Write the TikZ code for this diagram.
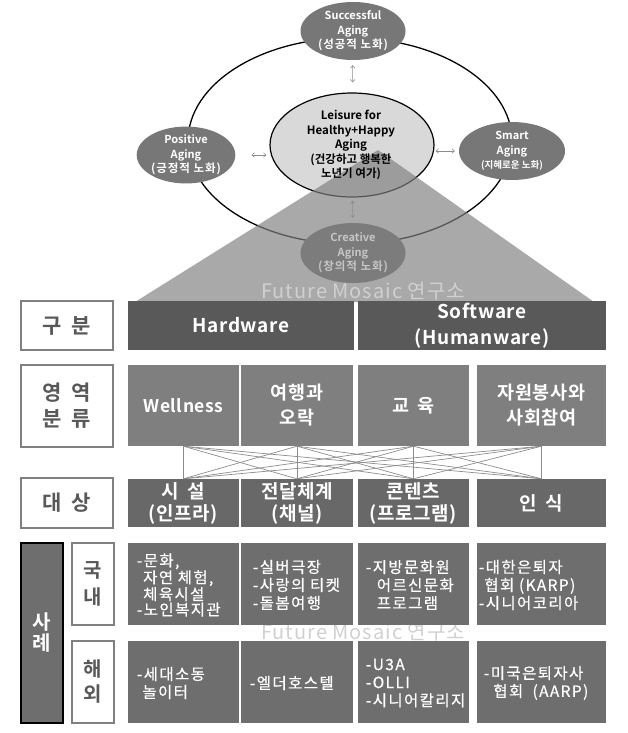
\documentclass[tikz,border=0pt]{standalone}
\usepackage{fontspec}
\setmainfont{Noto Sans CJK KR}[BoldFont={Noto Sans CJK KR Bold}]
\newfontfamily\fa{Noto Sans CJK KR}[BoldFont={Noto Sans CJK KR Bold}, LetterSpace=3]
\newfontfamily\fb{Noto Sans CJK KR}[BoldFont={Noto Sans CJK KR Bold}, LetterSpace=8]
\newfontfamily\fc{Noto Sans CJK KR}[LetterSpace=9, FakeBold=0.5]
\newfontfamily\fd{Noto Sans CJK KR}[LetterSpace=5]
\usetikzlibrary{shapes.geometric,arrows.meta,calc}
\definecolor{cHdr}{HTML}{595959}
\definecolor{cRowB}{HTML}{7F7F7F}
\definecolor{cRowC}{HTML}{686868}
\definecolor{cRowD}{HTML}{6E6E6E}
\definecolor{cLab}{HTML}{595959}
\definecolor{cBord}{HTML}{808080}
\definecolor{cOval}{HTML}{777777}
\definecolor{cCre}{HTML}{7C7C7C}
\definecolor{cCreTxt}{HTML}{C6C6C6}
\definecolor{cCtr}{HTML}{D9D9D9}
\definecolor{cTri}{HTML}{808080}
\definecolor{cMark}{HTML}{D0D0D0}
\definecolor{cLink}{HTML}{8C8C8C}
\definecolor{cArr}{HTML}{8C8C8C}
\newcommand\fsz[2]{\fontsize{#1}{#2}\selectfont}
\newcommand\wideSp{\spaceskip=.45em\relax}
\newcommand\midSp{\spaceskip=.3em\relax}
\newcommand\kpar[1]{{\fb\fsz{11.5}{14.5}\bfseries #1}}
\begin{document}
\begin{tikzpicture}[x=1pt,y=-1pt,
  oval/.style={ellipse, fill=cOval, text=white, inner sep=0, align=center, font=\fsz{11}{14.5}\bfseries},
  lab/.style={rectangle, draw=cBord, line width=1.8pt, fill=white, text=cLab, inner sep=0, align=center, font=\fa\fsz{21}{26}\bfseries\wideSp},
  hdr/.style={rectangle, fill=cHdr, text=white, inner sep=0, align=center, font=\fa\fsz{19}{26}\bfseries},
  rowb/.style={rectangle, fill=cRowB, text=white, inner sep=0, align=center, font=\fa\fsz{18.5}{25}\bfseries\wideSp},
  rowc/.style={rectangle, fill=cRowC, text=white, inner sep=0, align=center, font=\fa\fsz{19}{22}\bfseries\wideSp},
  rowd/.style={rectangle, fill=cRowD, inner sep=0},
  rtxt/.style={text=white, inner sep=0, align=left, anchor=west, font=\fc\fsz{15.5}{18}\midSp},
  link/.style={draw=cLink, line width=0.7pt},
  dbl/.style={draw=cArr, line width=0.6pt, {Straight Barb[length=2.5pt,width=4.5pt]}-{Straight Barb[length=2.5pt,width=4.5pt]}},
  wmark/.style={text=cMark, inner sep=0, font=\fd\fsz{20}{22}}
]
\useasboundingbox (0,0) rectangle (627,733);

% ---------- top diagram ----------
\node[ellipse, draw=black, line width=1.3pt, minimum width=324, minimum height=206, inner sep=0] (ring) at (350,141) {};
\node[ellipse, fill=cCtr, draw=black, line width=1.2pt, minimum width=164, minimum height=104, inner sep=0] (ctr) at (352,145) {};
\fill[cTri, opacity=0.68] (378,150) -- (594,302) -- (135,302) -- cycle;
\node[align=center, inner sep=0, font=\fsz{11.5}{14.5}\bfseries] (ctrtxt) at (351,145)
  {Leisure for\\Healthy+Happy\\Aging\\(건강하고 행복한\\노년기 여가)};

\node[oval, minimum width=105, minimum height=58] (succ) at (353,31) {Successful\\Aging\\\kpar{(성공적 노화)}};
\node[oval, minimum width=92, minimum height=54] (pos) at (186,155) {Positive\\Aging\\\kpar{(긍정적 노화)}};
\node[oval, minimum width=106, minimum height=58] (smart) at (512,151) {Smart\\Aging\\{\fsz{9.5}{14}(지혜로운 노화)}};
\node[oval, fill=cCre, text=cCreTxt, minimum width=105, minimum height=60] (cre) at (353,253) {Creative\\Aging\\\kpar{(창의적 노화)}};

\draw[dbl, shorten <=5pt, shorten >=10pt] (succ) -- (ctr);
\draw[dbl, shorten <=16pt, shorten >=3pt] (pos.east) -- (pos.east -| ctr.west);
\draw[dbl, shorten <=4pt, shorten >=1pt] (smart.west) -- (smart.west -| ctr.east);
\draw[dbl, shorten <=3pt, shorten >=5pt] (ctr) -- (cre);

\node[wmark] (wm1) at (363,291) {Future Mosaic 연구소};

% ---------- table ----------
% row 1
\node[lab, minimum width=92, minimum height=49] (l1) at (67,325.5) {구 분};
\node[hdr, minimum width=226, minimum height=49] (hw) at (241,325.5) {Hardware};
\node[hdr, minimum width=248, minimum height=49] (sw) at (482,325.5) {Software\\(Humanware)};

% row 2
\node[lab, minimum width=92, minimum height=82] (l2) at (67,406) {영 역\\분 류};
\node[rowb, minimum width=111, minimum height=81, font=\fa\fsz{17.5}{25}\bfseries] (w1) at (183.5,405.5) {Wellness};
\node[rowb, minimum width=112, minimum height=81] (w2) at (297,405.5) {여행과\\오락};
\node[rowb, minimum width=111, minimum height=81] (w3) at (413.5,405.5) {교 육};
\node[rowb, minimum width=129, minimum height=81] (w4) at (541.5,405.5) {자원봉사와\\사회참여};

% row 3
\node[lab, minimum width=92, minimum height=50] (l3) at (67,503) {대 상};
\node[rowc, minimum width=111, minimum height=48] (t1) at (183.5,503) {시 설\\(인프라)};
\node[rowc, minimum width=112, minimum height=48] (t2) at (297,503) {전달체계\\(채널)};
\node[rowc, minimum width=111, minimum height=48] (t3) at (413.5,503) {콘텐츠\\(프로그램)};
\node[rowc, minimum width=129, minimum height=48] (t4) at (541.5,503) {인 식};

\foreach \i in {1,...,4}{
  \foreach \j in {1,...,4}{
    \draw[link] (w\i.south) -- (t\j.north);
  }
}

% row 4
\node[wmark] (wm2) at (363,632) {Future Mosaic 연구소};

\node[rectangle, draw=black, line width=2.2pt, fill=cRowD, text=white, inner sep=0, align=center,
      font=\fsz{20}{21}\bfseries, minimum width=42, minimum height=180] (ex) at (42,633) {사\\례};
\node[lab, minimum width=42, minimum height=82, font=\fsz{20}{27}\bfseries] (dom) at (93,584) {국\\내};
\node[lab, minimum width=42, minimum height=82, font=\fsz{20}{25}\bfseries] (abr) at (93,682) {해\\외};

\node[rowd, minimum width=111, minimum height=82] (k1) at (183.5,584) {};
\node[rowd, minimum width=112, minimum height=82] (k2) at (297,584) {};
\node[rowd, minimum width=111, minimum height=82] (k3) at (413.5,584) {};
\node[rowd, minimum width=129, minimum height=82] (k4) at (541.5,584) {};
\node[rowd, minimum width=111, minimum height=82] (g1) at (183.5,682) {};
\node[rowd, minimum width=112, minimum height=82] (g2) at (297,682) {};
\node[rowd, minimum width=111, minimum height=82] (g3) at (413.5,682) {};
\node[rowd, minimum width=129, minimum height=82] (g4) at (541.5,682) {};

\node[rtxt, font=\fc\fsz{15.5}{15.4}\midSp] (k1t) at ($(k1.west)+(9,1)$) {-문화,\\\hspace*{.4em}자연 체험,\\\hspace*{.4em}체육시설\\-노인복지관};
\node[rtxt] (k2t) at ($(k2.west)+(12,1)$) {-실버극장\\-사랑의 티켓\\-돌봄여행};
\node[rtxt] (k3t) at ($(k3.west)+(8,1)$) {-지방문화원\\\hspace*{.7em}어르신문화\\\hspace*{.7em}프로그램};
\node[rtxt] (k4t) at ($(k4.west)+(2,1)$) {-대한은퇴자\\\hspace*{.35em}협회 (KARP)\\-시니어코리아};
\node[rtxt] (g1t) at ($(g1.west)+(9,1)$) {-세대소동\\\hspace*{.35em}놀이터};
\node[rtxt] (g2t) at ($(g2.west)+(9,1)$) {-엘더호스텔};
\node[rtxt] (g3t) at ($(g3.west)+(8,1)$) {-U3A\\-OLLI\\-시니어칼리지};
\node[rtxt] (g4t) at ($(g4.west)+(7,1)$) {-미국은퇴자사\\\hspace*{.6em}협회~~(AARP)};
\end{tikzpicture}
\end{document}
